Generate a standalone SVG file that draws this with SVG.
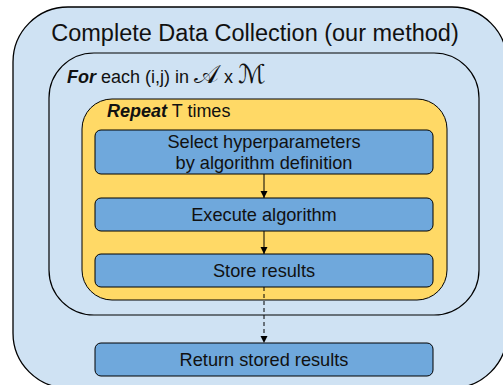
<svg xmlns="http://www.w3.org/2000/svg" width="503" height="385" viewBox="0 0 503 385">
<style>
text{font-family:"Liberation Sans",Arial,sans-serif;fill:#111}
.box{fill:#6fa8dc;stroke:#000;stroke-width:1}
.lbl{font-size:18.2px;text-anchor:middle}
.bi{font-weight:bold;font-style:italic}
.math{font-family:"DejaVu Serif","DejaVu Sans",serif;font-size:26px}
.conn{stroke:#000;stroke-width:1;fill:none}
</style>
<defs>
<marker id="ah" markerWidth="8" markerHeight="8" refX="7" refY="4" orient="auto" markerUnits="userSpaceOnUse">
<path d="M0,0.5 L7,4 L0,7.5 Z" fill="#000"/>
</marker>
</defs>
<g id="outer">
<rect x="13" y="7" width="494" height="381" rx="55" ry="55" fill="#cfe2f3" stroke="#000" stroke-width="1.3"/>
<text x="255" y="41" style="font-size:23.5px" text-anchor="middle">Complete Data Collection (our method)</text>
</g>
<g id="foreach">
<rect x="49" y="53" width="430" height="262" rx="45" ry="45" fill="#cfe2f3" stroke="#000" stroke-width="1.2"/>
<text x="67" y="82.5" style="font-size:18px"><tspan class="bi">For</tspan> each (i,j) in <tspan class="math">𝒜</tspan> x <tspan class="math">ℳ</tspan></text>
</g>
<g id="repeat">
<rect x="82" y="99" width="365" height="201" rx="30" ry="30" fill="#ffd966" stroke="#000" stroke-width="1"/>
<text x="107" y="117" style="font-size:18px"><tspan class="bi">Repeat</tspan> T times</text>
</g>
<g id="select">
<rect class="box" x="95" y="130" width="338" height="44" rx="6"/>
<text class="lbl" x="264" y="148">Select hyperparameters</text>
<text class="lbl" x="264" y="169">by algorithm definition</text>
</g>
<g id="execute">
<rect class="box" x="95" y="198" width="338" height="33" rx="6"/>
<text class="lbl" x="264" y="221">Execute algorithm</text>
</g>
<g id="store">
<rect class="box" x="95" y="254" width="338" height="33" rx="6"/>
<text class="lbl" x="264" y="277">Store results</text>
</g>
<g id="return">
<rect class="box" x="95" y="343" width="338" height="33" rx="6"/>
<text class="lbl" x="264" y="366">Return stored results</text>
</g>
<g id="connectors">
<line class="conn" x1="264" y1="174" x2="264" y2="198" marker-end="url(#ah)"/>
<line class="conn" x1="264" y1="231" x2="264" y2="254" marker-end="url(#ah)"/>
<line class="conn" x1="264" y1="287" x2="264" y2="343" stroke-dasharray="4,3" marker-end="url(#ah)"/>
</g>
</svg>
